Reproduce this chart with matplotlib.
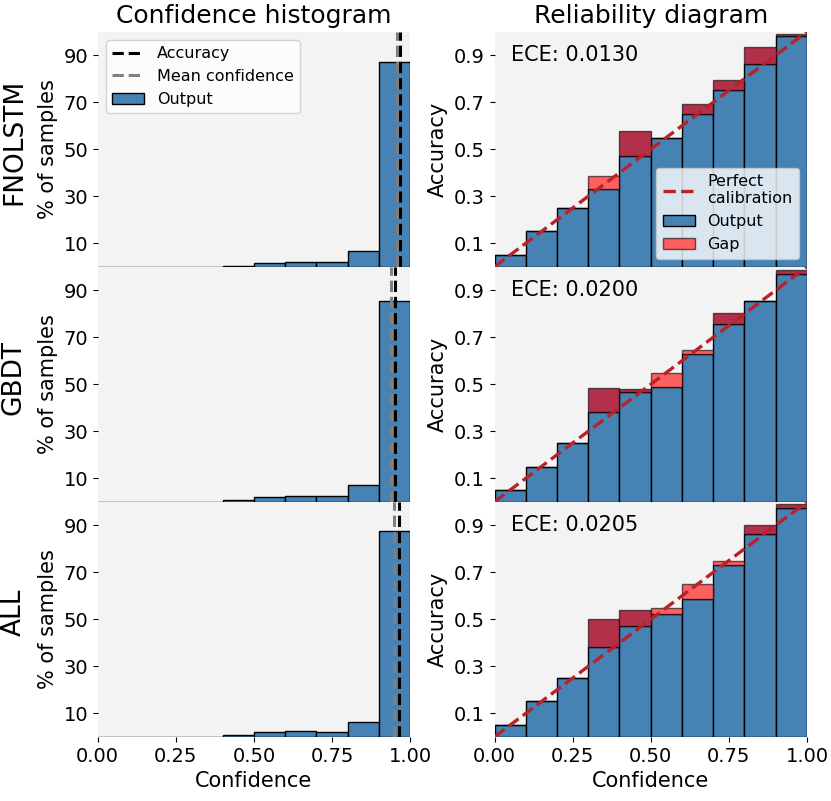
import numpy as np
import matplotlib
matplotlib.use("Agg")
import matplotlib.pyplot as plt
from matplotlib.patches import Patch
from matplotlib.lines import Line2D

models = ["FNOLSTM", "GBDT", "ALL"]
bin_lefts = [0.0, 0.1, 0.2, 0.3, 0.4, 0.5, 0.6, 0.7, 0.8, 0.9]

# % of samples per confidence bin
hist_pct = {
    "FNOLSTM": [0.0, 0.0, 0.0, 0.05, 0.5, 1.5, 1.9, 2.1, 6.9, 87.2],
    "GBDT":    [0.0, 0.0, 0.0, 0.05, 0.7, 2.1, 2.4, 2.4, 7.0, 85.5],
    "ALL":     [0.0, 0.0, 0.0, 0.05, 0.8, 1.9, 2.3, 1.9, 6.2, 87.6],
}
accuracy_line = {"FNOLSTM": 0.967, "GBDT": 0.951, "ALL": 0.964}
mean_conf_line = {"FNOLSTM": 0.957, "GBDT": 0.938, "ALL": 0.949}

# reliability: output (blue) heights, gap tops, and gap shade (1 = dark, 0 = light)
output_acc = {
    "FNOLSTM": [0.049, 0.151, 0.249, 0.332, 0.470, 0.549, 0.651, 0.750, 0.863, 0.982],
    "GBDT":    [0.049, 0.150, 0.250, 0.381, 0.466, 0.487, 0.627, 0.755, 0.856, 0.968],
    "ALL":     [0.050, 0.151, 0.250, 0.381, 0.472, 0.522, 0.587, 0.733, 0.861, 0.975],
}
gap_top = {
    "FNOLSTM": [0.049, 0.151, 0.249, 0.385, 0.579, 0.549, 0.691, 0.793, 0.934, 0.991],
    "GBDT":    [0.049, 0.150, 0.250, 0.484, 0.481, 0.546, 0.647, 0.804, 0.856, 0.986],
    "ALL":     [0.050, 0.151, 0.250, 0.500, 0.541, 0.550, 0.650, 0.748, 0.900, 0.992],
}
gap_dark = {
    "FNOLSTM": [0, 0, 0, 0, 1, 0, 1, 1, 1, 1],
    "GBDT":    [0, 0, 0, 1, 1, 0, 0, 1, 0, 1],
    "ALL":     [0, 0, 0, 1, 1, 0, 0, 0, 1, 1],
}
ece = {"FNOLSTM": "0.0130", "GBDT": "0.0200", "ALL": "0.0205"}

hist_ticks = [10, 30, 50, 70, 90]
rel_ticks = [0.1, 0.3, 0.5, 0.7, 0.9]
x_ticks = [0.0, 0.25, 0.5, 0.75, 1.0]

BLUE = "#4682b4"
BG = "#f3f3f3"
LIGHT_RED = "#fe5f5f"
DARK_RED = "#b2304a"
LINE_RED = "#b82228"

fig = plt.figure(figsize=(8.31, 8.01), dpi=100)
gs = fig.add_gridspec(3, 2, left=0.1176, right=0.9711, top=0.9604, bottom=0.0801,
                      wspace=0.2698, hspace=0.0)

for r, m in enumerate(models):
    axh = fig.add_subplot(gs[r, 0])
    axr = fig.add_subplot(gs[r, 1])
    for ax in (axh, axr):
        ax.set_facecolor(BG)
        for s in ax.spines.values():
            s.set_visible(False)
        ax.set_xlim(0, 1)
        ax.tick_params(labelsize=14)
        ax.set_xticks(x_ticks)
        if r < 2:
            ax.tick_params(bottom=False, labelbottom=False)
        else:
            ax.set_xlabel("Confidence", fontsize=15)

    # histogram
    axh.bar(bin_lefts, hist_pct[m], width=0.1, align="edge", color=BLUE,
            edgecolor="black", linewidth=1, alpha=1.0, zorder=2, label="Output")
    axh.axvline(accuracy_line[m], color="black", ls="--", lw=2.2, zorder=3, label="Accuracy")
    axh.axvline(mean_conf_line[m], color="gray", ls="--", lw=2.2, zorder=3, label="Mean confidence")
    axh.set_ylim(0, 100)
    axh.set_yticks(hist_ticks)
    axh.set_ylabel("% of samples", fontsize=15)
    axh.text(-0.268, 0.53, m, transform=axh.transAxes, rotation=90,
             ha="center", va="center", fontsize=19)
    if r == 0:
        h = [Line2D([], [], color="black", ls="--", lw=2.2),
             Line2D([], [], color="gray", ls="--", lw=2.2),
             Patch(facecolor=BLUE, edgecolor="black")]
        axh.legend(h, ["Accuracy", "Mean confidence", "Output"], loc="upper left",
                   fontsize=11.5)

    # reliability diagram
    acc = np.array(output_acc[m])
    top = np.array(gap_top[m])
    cols = [DARK_RED if d else LIGHT_RED for d in gap_dark[m]]
    axr.bar(bin_lefts, acc, width=0.1, align="edge", color=BLUE,
            edgecolor="black", linewidth=1, zorder=2)
    axr.bar(bin_lefts, top - acc, bottom=acc, width=0.1, align="edge", color=cols,
            edgecolor=(0, 0, 0, 0.6), linewidth=1, zorder=2)
    axr.plot([0, 1], [0, 1], ls="--", color=LINE_RED, lw=2.4, zorder=4)
    axr.set_ylim(0, 1)
    axr.set_yticks(rel_ticks)
    axr.set_ylabel("Accuracy", fontsize=15)
    axr.text(0.053, 0.9, "ECE: " + ece[m], ha="left", va="center", fontsize=15,
             transform=axr.transData)
    if r == 0:
        h = [Line2D([], [], color=LINE_RED, ls="--", lw=2.4),
             Patch(facecolor=BLUE, edgecolor="black"),
             Patch(facecolor=LIGHT_RED, edgecolor=(0, 0, 0, 0.6))]
        axr.legend(h, ["Perfect\ncalibration", "Output", "Gap"], loc="lower right",
                   fontsize=11.5)

    if r == 0:
        axh.set_title("Confidence histogram", fontsize=18)
        axr.set_title("Reliability diagram", fontsize=18)

fig.savefig("out.png", dpi=100)
